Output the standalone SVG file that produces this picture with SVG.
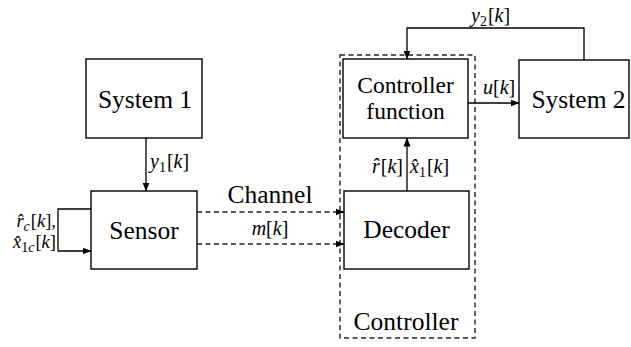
<svg xmlns="http://www.w3.org/2000/svg" width="631" height="347" viewBox="0 0 631 347" font-family="Liberation Serif, DejaVu Serif, serif">
<style>
.box{fill:#fff;stroke:#000;stroke-width:1.4}
.dash{fill:none;stroke:#222;stroke-width:1.4;stroke-dasharray:5 3.5}
.ln{fill:none;stroke:#000;stroke-width:1.3}
.t{font-size:25.5px;fill:#000;text-anchor:middle}
.t2{font-size:23.5px}
.m{font-size:20px;fill:#000}
.m2{font-size:18.5px}
.i{font-style:italic}
.s{font-size:14px}
</style>
<defs>
<marker id="ah" markerWidth="9" markerHeight="8" refX="8.5" refY="4" orient="auto" markerUnits="userSpaceOnUse">
<path d="M0,0.5 L9,4 L0,7.5 z" fill="#000"/>
</marker>
</defs>
<rect width="631" height="347" fill="#fff"/>

<g id="controller">
<rect class="dash" x="340" y="55" width="135" height="283"/>
<text class="t" x="406" y="330">Controller</text>
</g>

<g id="system1">
<rect class="box" x="86" y="59" width="116" height="79"/>
<text class="t" x="145" y="108">System 1</text>
</g>

<g id="sensor">
<rect class="box" x="91" y="191" width="106" height="78"/>
<text class="t" x="144" y="239">Sensor</text>
</g>

<g id="controller-function">
<rect class="box" x="343" y="59" width="125" height="79"/>
<text class="t t2" x="405.5" y="93">Controller</text>
<text class="t t2" x="405.5" y="119">function</text>
</g>

<g id="decoder">
<rect class="box" x="344" y="191" width="125" height="78"/>
<text class="t" x="406.5" y="238">Decoder</text>
</g>

<g id="system2">
<rect class="box" x="519" y="60" width="110" height="78"/>
<text class="t" x="578.5" y="108">System 2</text>
</g>

<g id="connectors">
<path class="ln" d="M146,138 V191" marker-end="url(#ah)"/>
<path class="ln" d="M91,209 H58 V251 H91" marker-end="url(#ah)"/>
<path class="dash" d="M197,212 H344" marker-end="url(#ah)"/>
<path class="dash" d="M197,244 H344" marker-end="url(#ah)"/>
<path class="ln" d="M407,191 V138" marker-end="url(#ah)"/>
<path class="ln" d="M468,103 H519" marker-end="url(#ah)"/>
<path class="ln" d="M584,60 V28 H407 V59" marker-end="url(#ah)"/>
</g>

<g id="labels">
<text class="m" x="150" y="168"><tspan class="i">y</tspan><tspan class="s" dy="4">1</tspan><tspan dy="-4" dx="1">[</tspan><tspan class="i">k</tspan><tspan>]</tspan></text>
<text class="m m2" x="56" y="227" text-anchor="end"><tspan class="i">r̂</tspan><tspan class="s i" dy="4">c</tspan><tspan dy="-4" dx="1">[</tspan><tspan class="i">k</tspan><tspan>],</tspan></text>
<text class="m m2" x="56" y="248" text-anchor="end"><tspan class="i">x̂</tspan><tspan class="s" dy="4">1</tspan><tspan class="s i">c</tspan><tspan dy="-4" dx="1">[</tspan><tspan class="i">k</tspan><tspan>]</tspan></text>
<text class="t" x="270" y="203">Channel</text>
<text class="m" x="270" y="235" text-anchor="middle"><tspan class="i">m</tspan><tspan>[</tspan><tspan class="i">k</tspan><tspan>]</tspan></text>
<text class="m" x="403" y="173" text-anchor="end"><tspan class="i">r̂</tspan><tspan dx="1">[</tspan><tspan class="i">k</tspan><tspan>]</tspan></text>
<text class="m" x="410" y="173"><tspan class="i">x̂</tspan><tspan class="s" dy="4">1</tspan><tspan dy="-4" dx="1">[</tspan><tspan class="i">k</tspan><tspan>]</tspan></text>
<text class="m" x="483" y="94"><tspan class="i">u</tspan><tspan>[</tspan><tspan class="i">k</tspan><tspan>]</tspan></text>
<text class="m" x="471" y="22"><tspan class="i">y</tspan><tspan class="s" dy="4">2</tspan><tspan dy="-4" dx="1">[</tspan><tspan class="i">k</tspan><tspan>]</tspan></text>
</g>
</svg>
